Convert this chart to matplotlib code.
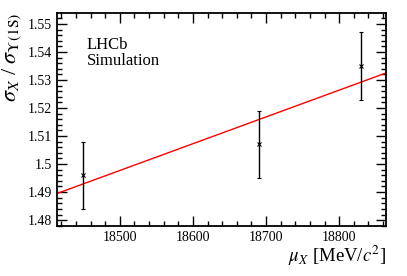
import matplotlib
matplotlib.use("Agg")
import matplotlib.pyplot as plt
from matplotlib.ticker import MultipleLocator

plt.rcParams['font.family'] = ['Liberation Serif', 'DejaVu Serif']
plt.rcParams['mathtext.fontset'] = 'stix'

# data points
mass = [18450, 18690, 18830]
ratio = [1.496, 1.507, 1.535]
ratio_err = [0.012, 0.012, 0.012]

# linear fit endpoints
fit_x = [18414, 18864]
fit_y = [1.4895, 1.5325]

fig = plt.figure(figsize=(4.07, 2.76), dpi=100)
ax = fig.add_axes([57/407, 1 - 226/276, (386-57)/407, (226-13)/276])

ax.plot(fit_x, fit_y, color='red', lw=1.0, zorder=2)
ax.errorbar(mass, ratio, yerr=ratio_err, fmt='x', color='black', ms=3, mew=0.8,
            elinewidth=1.0, capsize=1.5, capthick=1.0, zorder=3)

ax.set_xlim(18414, 18864)
ax.set_ylim(1.4779, 1.5539)
ax.xaxis.set_major_locator(MultipleLocator(100))
ax.xaxis.set_minor_locator(MultipleLocator(20))
ax.yaxis.set_minor_locator(MultipleLocator(0.002))
ax.set_yticks([1.48, 1.49, 1.5, 1.51, 1.52, 1.53, 1.54, 1.55])
ax.set_yticklabels(['1.48', '1.49', '1.5', '1.51', '1.52', '1.53', '1.54', '1.55'])
ax.tick_params(which='both', direction='in', top=True, right=True, labelsize=10)
ax.tick_params(which='major', length=7, width=1.0)
ax.tick_params(which='minor', length=3.5, width=1.0)
for s in ax.spines.values():
    s.set_linewidth(1.3)

ax.set_xlabel(r'$\mu_{X}$ [MeV/$c^{2}$]', fontsize=13.5, loc='right', labelpad=0)
ax.set_ylabel(r'$\sigma_{X}$ / $\sigma_{\mathrm{\Upsilon(1S)}}$', fontsize=16, loc='top', labelpad=3)

ax.text(0.09, 0.885, 'LHCb\nSimulation', transform=ax.transAxes, fontsize=12,
        va='top', ha='left', linespacing=1.0)

fig.savefig('out.png', dpi=100)
